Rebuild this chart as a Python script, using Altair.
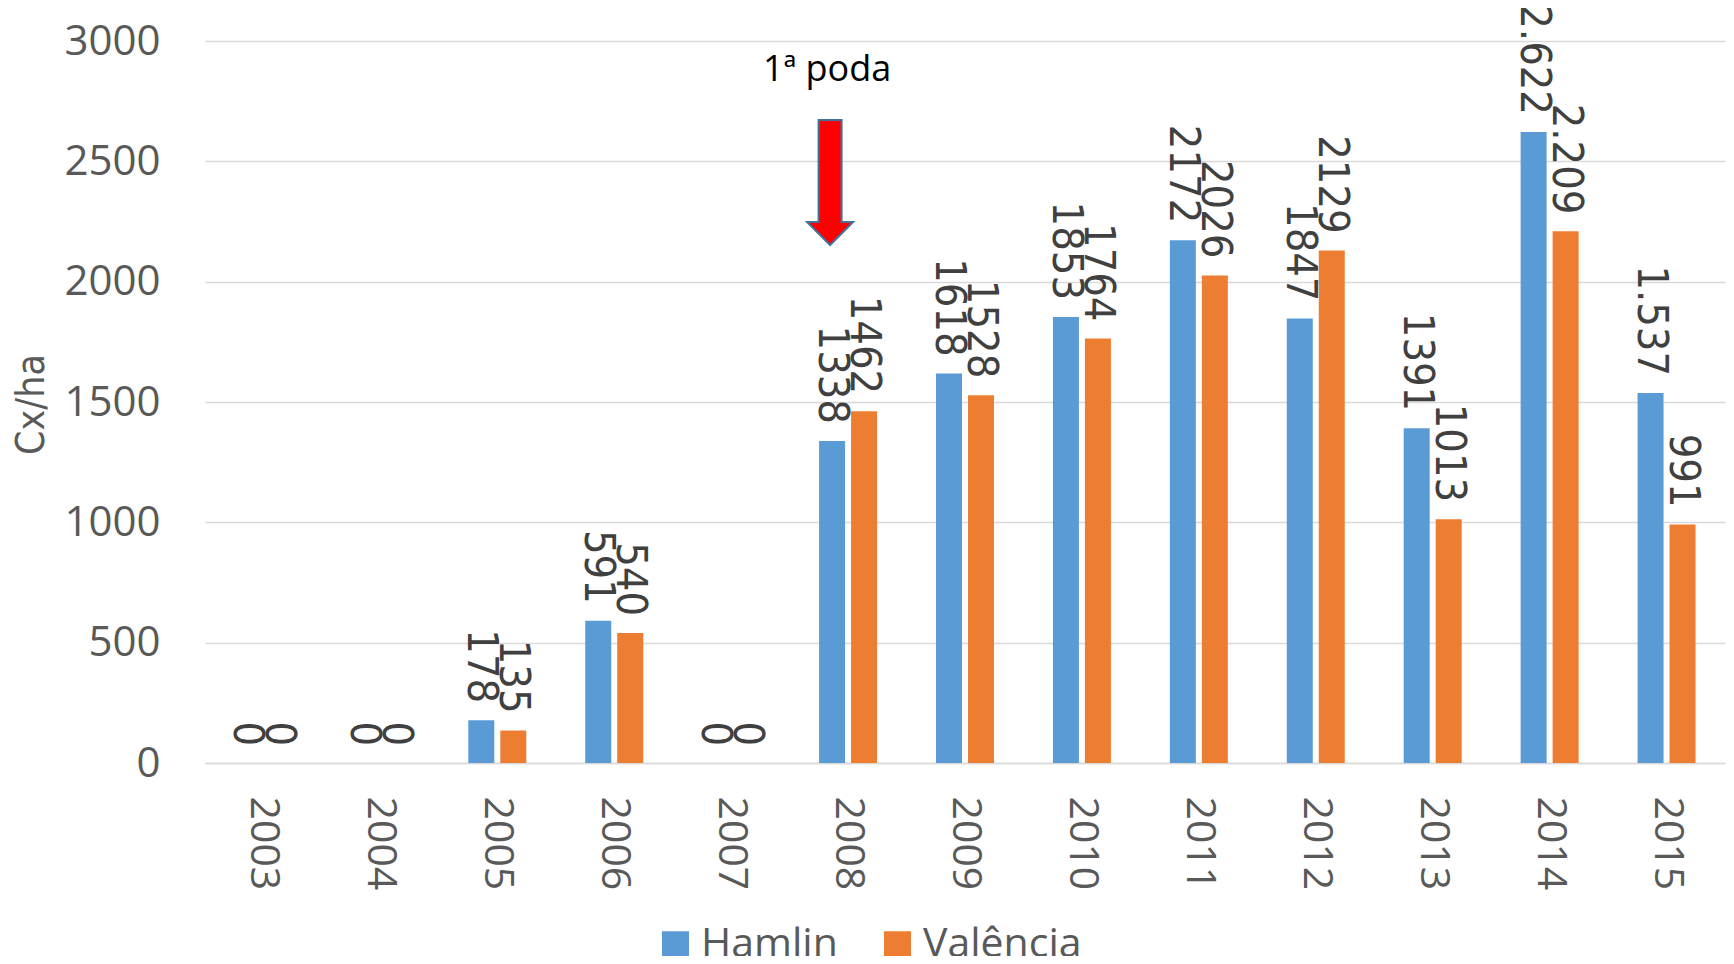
import altair as alt
import pandas as pd

years = ["2003", "2004", "2005", "2006", "2007", "2008", "2009",
         "2010", "2011", "2012", "2013", "2014", "2015"]
series = ["Hamlin", "Valência"]
colors = ["#5B9BD5", "#ED7D31"]
hamlin = [0, 0, 178, 591, 0, 1338, 1618, 1853, 2172, 1847, 1391, 2622, 1537]
valencia = [0, 0, 135, 540, 0, 1462, 1528, 1764, 2026, 2129, 1013, 2209, 991]
hamlin_labels = ["0", "0", "178", "591", "0", "1338", "1618", "1853", "2172",
                 "1847", "1391", "2.622", "1.537"]
valencia_labels = ["0", "0", "135", "540", "0", "1462", "1528", "1764", "2026",
                   "2129", "1013", "2.209", "991"]
y_ticks = [0, 500, 1000, 1500, 2000, 2500, 3000]

annot_year = ["2008"]
annot_text = ["1ª poda"]
annot_text_y = [2880]
annot_arrow_y = [2412]

rows = []
for i, yr in enumerate(years):
    rows.append({"ano": yr, "serie": series[0], "valor": hamlin[i], "rotulo": hamlin_labels[i]})
    rows.append({"ano": yr, "serie": series[1], "valor": valencia[i], "rotulo": valencia_labels[i]})
df = pd.DataFrame(rows)

df_text = pd.DataFrame({"ano": annot_year, "valor": annot_text_y, "texto": annot_text})
df_arrow = pd.DataFrame({"ano": annot_year, "valor": annot_arrow_y})

GRAY = "#595959"

x_main = alt.X(
    "ano:N", sort=years, title=None,
    scale=alt.Scale(domain=years, paddingInner=0.504, paddingOuter=0.252),
    axis=alt.Axis(labelAngle=90, labelAlign="left", labelBaseline="middle",
                  labelPadding=33, labelFontSize=41, labelFont="Open Sans",
                  labelColor=GRAY, ticks=False, domain=True,
                  domainColor="#D9D9D9", domainWidth=1.5, grid=False),
)
y_main = alt.Y(
    "valor:Q", title="Cx/ha",
    scale=alt.Scale(domain=[0, 3000], nice=False),
    axis=alt.Axis(values=y_ticks, format="d", labelFontSize=42, labelFont="Open Sans",
                  labelColor=GRAY, labelPadding=45, ticks=False, domain=False,
                  gridColor="#D9D9D9", gridWidth=1.5,
                  titleFont="DejaVu Sans Condensed", titleFontSize=39,
                  titleFontWeight="normal", titleColor=GRAY,
                  titleX=-174, titleY=363, titleAlign="center", titleBaseline="middle"),
)
x_off = alt.XOffset("serie:N", sort=series,
                    scale=alt.Scale(domain=series, paddingInner=0.1875, paddingOuter=0))

bars = alt.Chart(df).mark_bar().encode(
    x=x_main,
    y=y_main,
    xOffset=x_off,
    color=alt.Color(
        "serie:N", sort=series,
        scale=alt.Scale(domain=series, range=colors),
        legend=alt.Legend(orient="none", legendX=450, legendY=883,
                          direction="horizontal", title=None,
                          symbolType="square", symbolSize=729,
                          symbolStrokeWidth=0, symbolOpacity=1,
                          labelFontSize=41, labelFont="Open Sans",
                          labelColor=GRAY, columnPadding=39, labelOffset=5),
    ),
)

labels = alt.Chart(df).mark_text(
    angle=90, align="right", baseline="middle", dx=-17,
    fontSize=43, font="DejaVu Sans Condensed", color="#404040",
).encode(
    x=alt.X("ano:N", sort=years, title=None),
    y=alt.Y("valor:Q", title="Cx/ha"),
    xOffset=x_off,
    text="rotulo:N",
)

note = alt.Chart(df_text).mark_text(
    fontSize=36, font="Open Sans", color="black",
    align="center", baseline="middle", xOffset=-21,
).encode(
    x=alt.X("ano:N", sort=years, title=None),
    y=alt.Y("valor:Q", title="Cx/ha"),
    text="texto:N",
)

arrow_path = ("M -0.184 -1 L 0.184 -1 L 0.184 0.632 L 0.368 0.632 "
              "L 0 1 L -0.368 0.632 L -0.184 0.632 Z")
arrow = alt.Chart(df_arrow).mark_point(
    shape=arrow_path, size=15625, filled=True, fill="#FF0000",
    stroke="#41719C", strokeWidth=2, opacity=1, xOffset=-18,
).encode(
    x=alt.X("ano:N", sort=years, title=None),
    y=alt.Y("valor:Q", title="Cx/ha"),
)

chart = alt.layer(bars, labels, note, arrow).properties(
    width=1520, height=722,
    padding={"left": 197, "top": 33, "right": 1, "bottom": 193},
    autosize=alt.AutoSizeParams(type="none"),
    background="white",
).configure_view(stroke=None)

chart.save("out.html", embed_options={"renderer": "svg", "actions": False})
